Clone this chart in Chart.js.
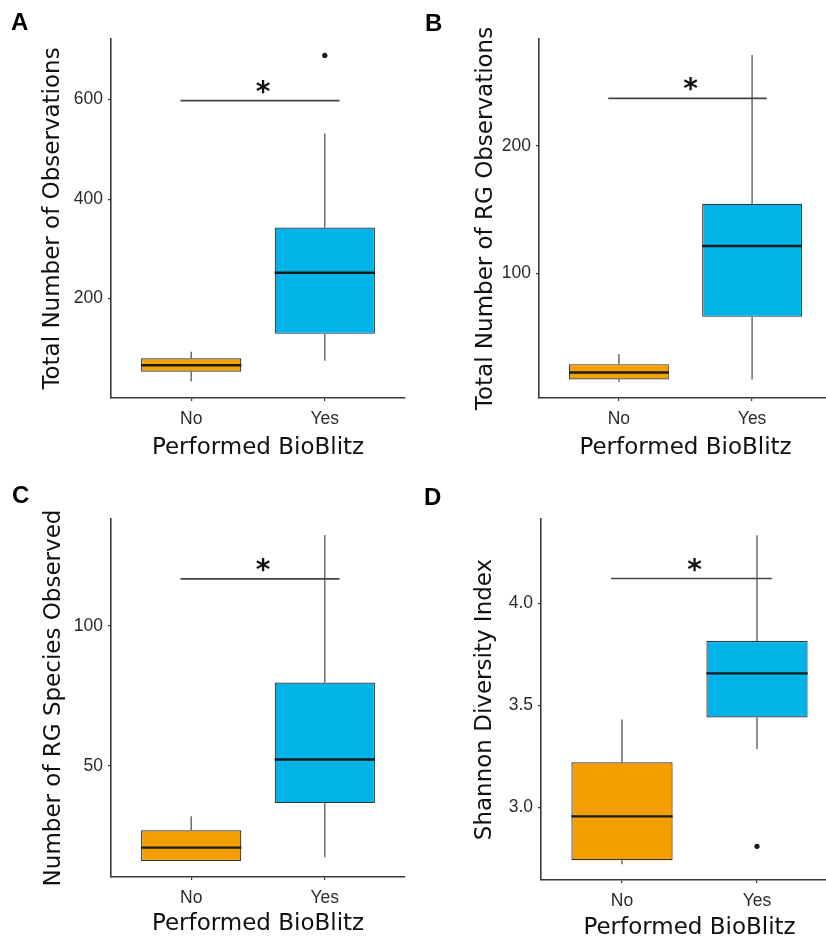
<!DOCTYPE html>
<html lang="en">
<head>
<meta charset="UTF-8">
<title>Performed BioBlitz - box plots</title>
<script src="https://cdn.jsdelivr.net/npm/chart.js"></script>
<style>
  body { margin: 0; background: #fff; }
  #figure { position: relative; width: 826px; height: 939px; overflow: hidden; background: #fff; }
  #figure canvas { position: absolute; }
  .letter { position: absolute; font: bold 24px/24px "Liberation Sans", Arial, sans-serif; color: #000; }
</style>
</head>
<body>
<div id="figure">
  <canvas id="chartA" width="413" height="470" style="left:0;top:0"></canvas>
  <canvas id="chartB" width="430" height="470" style="left:413px;top:0"></canvas>
  <canvas id="chartC" width="413" height="469" style="left:0;top:470px"></canvas>
  <canvas id="chartD" width="430" height="469" style="left:413px;top:470px"></canvas>
  <div class="letter" style="left:11px;top:10px">A</div>
  <div class="letter" style="left:425px;top:11px">B</div>
  <div class="letter" style="left:12px;top:483px">C</div>
  <div class="letter" style="left:424px;top:485px">D</div>
</div>

<script>
const groups = ['No', 'Yes'];
const xTitle = 'Performed BioBlitz';
const sigX = [-0.08, 1.11];

// A - total observations
const obsLow  = [33, 75];
const obsQ1   = [53, 129];
const obsMed  = [66, 252];
const obsQ3   = [80, 343];
const obsHigh = [93, 532];
const obsOut  = [[], [689]];
const obsSig  = 598;
const obsTicks = [200, 400, 600];

// B - research grade observations
const rgLow  = [15, 17];
const rgQ1   = [17, 66];
const rgMed  = [22.5, 121.5];
const rgQ3   = [29, 154.5];
const rgHigh = [37, 271];
const rgOut  = [[], []];
const rgSig  = 237;
const rgTicks = [100, 200];

// C - research grade species
const spLow  = [16, 17.4];
const spQ1   = [16, 36.7];
const spMed  = [20.8, 52.3];
const spQ3   = [27, 79.8];
const spHigh = [32, 132.5];
const spOut  = [[], []];
const spSig  = 116.8;
const spTicks = [50, 100];

// D - shannon index
const shLow  = [2.72, 3.285];
const shQ1   = [2.74, 3.44];
const shMed  = [2.955, 3.656];
const shQ3   = [3.22, 3.815];
const shHigh = [3.43, 4.333];
const shOut  = [[], [2.808]];
const shSig  = 4.121;
const shTicks = [3.0, 3.5, 4.0];

const boxColors = ['#F2A000', '#00B4E8'];
const inkColor = '#333333';
const tickFont = { family: '"Liberation Sans", Arial, sans-serif', size: 17.5 };
const titleFont = { family: '"DejaVu Sans", Verdana, sans-serif', size: 23 };

function makePanel(id, d) {
  // whiskers behind the boxes, medians and the star on top
  const boxExtras = {
    id: 'boxExtras',
    beforeDatasetsDraw(chart) {
      const ctx = chart.ctx, ys = chart.scales.y;
      const bars = chart.getDatasetMeta(0).data;
      ctx.save();
      ctx.strokeStyle = '#555';
      ctx.lineWidth = 1.3;
      bars.forEach((bar, i) => {
        ctx.beginPath();
        ctx.moveTo(bar.x, ys.getPixelForValue(d.high[i]));
        ctx.lineTo(bar.x, ys.getPixelForValue(d.q3[i]));
        ctx.moveTo(bar.x, ys.getPixelForValue(d.q1[i]));
        ctx.lineTo(bar.x, ys.getPixelForValue(d.low[i]));
        ctx.stroke();
      });
      ctx.restore();
    },
    afterDatasetsDraw(chart) {
      const ctx = chart.ctx, xs = chart.scales.x, ys = chart.scales.y;
      const bars = chart.getDatasetMeta(0).data;
      ctx.save();
      ctx.strokeStyle = '#1a1a1a';
      ctx.lineWidth = 2.4;
      bars.forEach((bar, i) => {
        const py = ys.getPixelForValue(d.med[i]);
        ctx.beginPath();
        ctx.moveTo(bar.x - bar.width / 2, py);
        ctx.lineTo(bar.x + bar.width / 2, py);
        ctx.stroke();
      });
      ctx.fillStyle = '#111';
      ctx.font = 'bold 28px "DejaVu Sans"';
      ctx.textAlign = 'center';
      ctx.textBaseline = 'alphabetic';
      ctx.fillText('*', xs.getPixelForValue((sigX[0] + sigX[1]) / 2) + 3, ys.getPixelForValue(d.sig));
      ctx.restore();
    }
  };

  const outliers = d.out.flatMap((vals, i) => vals.map(v => ({ x: i, y: v })));

  return new Chart(document.getElementById(id), {
    type: 'bar',
    data: {
      datasets: [{
        data: groups.map((g, i) => ({ x: i, y: [d.q1[i], d.q3[i]] })),
        backgroundColor: boxColors,
        borderColor: inkColor,
        borderWidth: 1.2,
        borderSkipped: false,
        barPercentage: 0.75,
        categoryPercentage: 1
      }, {
        type: 'line',
        data: sigX.map(x => ({ x: x, y: d.sig })),
        borderColor: '#444',
        borderWidth: 1.6,
        pointRadius: 0
      }, {
        type: 'scatter',
        data: outliers,
        backgroundColor: '#1a1a1a',
        borderWidth: 0,
        pointRadius: 2.6
      }]
    },
    options: {
      responsive: false,
      animation: false,
      layout: { padding: { top: d.padTop, right: d.padRight, left: 0, bottom: 0 } },
      plugins: { legend: { display: false }, tooltip: { enabled: false } },
      scales: {
        x: {
          type: 'linear',
          min: -0.6,
          max: 1.6,
          offset: false,
          afterBuildTicks: s => { s.ticks = groups.map((g, i) => ({ value: i })); },
          afterFit: s => { s.height = d.xHeight; },
          ticks: { callback: v => groups[v], font: tickFont, color: '#2b2b2b', padding: 8, maxRotation: 0 },
          grid: { offset: false, drawOnChartArea: false, drawTicks: true, tickLength: 3, color: inkColor, lineWidth: 1.2 },
          border: { display: true, color: '#3a3a3a', width: 1.6 },
          title: { display: true, text: xTitle, font: titleFont, color: '#111', padding: { top: 0, bottom: d.xTitlePad } }
        },
        y: {
          min: d.min,
          max: d.max,
          beginAtZero: false,
          afterBuildTicks: s => { s.ticks = d.ticks.map(v => ({ value: v })); },
          afterFit: s => { s.width = d.yWidth; },
          ticks: { callback: v => d.tickFmt(v), font: tickFont, color: '#2b2b2b', padding: 5 },
          grid: { drawOnChartArea: false, drawTicks: true, tickLength: 3, color: inkColor, lineWidth: 1.2 },
          border: { display: true, color: '#3a3a3a', width: 1.6 },
          title: { display: true, text: d.yTitle, font: titleFont, color: '#111', padding: { top: d.yTitlePad, bottom: 0 } }
        }
      }
    },
    plugins: [boxExtras]
  });
}

const asInt = v => String(v);
const oneDec = v => v.toFixed(1);

makePanel('chartA', {
  low: obsLow, q1: obsQ1, med: obsMed, q3: obsQ3, high: obsHigh, out: obsOut, sig: obsSig,
  ticks: obsTicks, tickFmt: asInt, min: 0, max: 722,
  yTitle: 'Total Number of Observations',
  padTop: 39, padRight: 8, yWidth: 111, xHeight: 72, xTitlePad: 8, yTitlePad: 39
});

makePanel('chartB', {
  low: rgLow, q1: rgQ1, med: rgMed, q3: rgQ3, high: rgHigh, out: rgOut, sig: rgSig,
  ticks: rgTicks, tickFmt: asInt, min: 2.5, max: 283.5,
  yTitle: 'Total Number of RG Observations',
  padTop: 39, padRight: 11, yWidth: 126, xHeight: 72, xTitlePad: 8, yTitlePad: 59
});

makePanel('chartC', {
  low: spLow, q1: spQ1, med: spMed, q3: spQ3, high: spHigh, out: spOut, sig: spSig,
  ticks: spTicks, tickFmt: asInt, min: 10.3, max: 138.2,
  yTitle: 'Number of RG Species Observed',
  padTop: 49, padRight: 8, yWidth: 111, xHeight: 62, xTitlePad: 1, yTitlePad: 40
});

makePanel('chartD', {
  low: shLow, q1: shQ1, med: shMed, q3: shQ3, high: shHigh, out: shOut, sig: shSig,
  ticks: shTicks, tickFmt: oneDec, min: 2.643, max: 4.413,
  yTitle: 'Shannon Diversity Index',
  padTop: 49, padRight: 5, yWidth: 128, xHeight: 59, xTitlePad: -3, yTitlePad: 58
});
</script>
</body>
</html>
